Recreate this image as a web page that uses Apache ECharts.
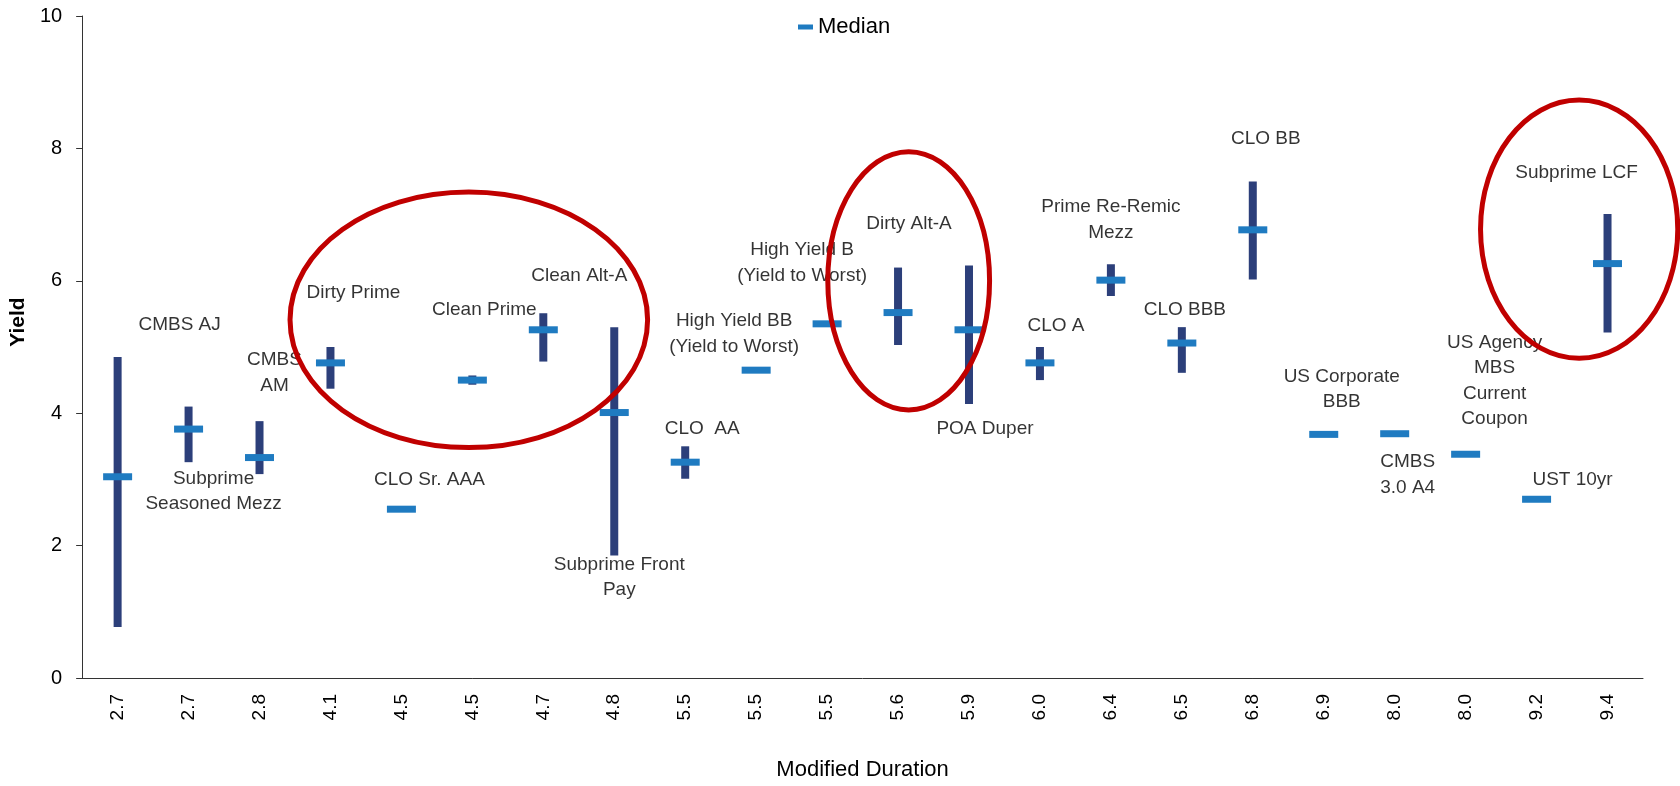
<!DOCTYPE html>
<html>
<head>
<meta charset="utf-8">
<script src="https://cdn.jsdelivr.net/npm/echarts@6/dist/echarts.min.js"></script>
<style>
  html, body { margin: 0; padding: 0; background: #fff; }
  #chart { width: 1680px; height: 786px; }
</style>
</head>
<body>
<div id="chart"></div>
<script>
// data
var names = ['CMBS AJ', 'Subprime\nSeasoned Mezz', 'CMBS\nAM', 'Dirty Prime', 'CLO Sr. AAA', 'Clean Prime',
  'Clean Alt-A', 'Subprime Front\nPay', 'CLO  AA', 'High Yield BB\n(Yield to Worst)', 'High Yield B\n(Yield to Worst)',
  'Dirty Alt-A', 'POA Duper', 'CLO A', 'Prime Re-Remic\nMezz', 'CLO BBB', 'CLO BB', 'US Corporate\nBBB',
  'CMBS\n3.0 A4', 'US Agency\nMBS\nCurrent\nCoupon', 'UST 10yr', 'Subprime LCF'];
var durations = [2.7, 2.7, 2.8, 4.1, 4.5, 4.5, 4.7, 4.8, 5.5, 5.5, 5.5, 5.6, 5.9, 6.0, 6.4, 6.5, 6.8, 6.9, 8.0, 8.0, 9.2, 9.4];
var medians = [3.04, 3.76, 3.33, 4.76, 2.55, 4.5, 5.26, 4.01, 3.26, 4.65, 5.35, 5.52, 5.26, 4.76, 6.01, 5.06, 6.77, 3.68, 3.69, 3.38, 2.70, 6.26];
var lows = [0.77, 3.26, 3.08, 4.37, null, 4.43, 4.78, 1.85, 3.01, null, null, 5.03, 4.14, 4.5, 5.77, 4.61, 6.02, null, null, null, null, 5.22];
var highs = [4.85, 4.10, 3.88, 5.0, null, 4.57, 5.51, 5.30, 3.5, null, null, 6.20, 6.23, 5.0, 6.25, 5.30, 7.5, null, null, null, null, 7.01];
var yTicks = [0, 2, 4, 6, 8, 10];

// where each text label sits: [pixel shift from its column, yield]
var labelPlace = [[62, 5.34], [25, 2.82], [15, 4.61], [23, 5.82], [28, 3.0], [12, 5.57], [36, 6.08], [5, 1.52],
  [17, 3.77], [-22, 5.2], [-25, 6.27], [11, 6.86], [16, 3.77], [16, 5.32], [0, 6.92], [3, 5.57], [13, 8.15],
  [18, 4.36], [13, 3.07], [29, 4.49], [36, 3.0], [-31, 7.63]];
// red rings: [column centre, yield centre, half width in columns, half height in yield]
var rings = [[4.95, 5.41, 2.52, 1.93], [11.15, 6.0, 1.14, 1.95], [20.6, 6.78, 1.39, 1.95]];

var font = 'Liberation Sans, Arial, sans-serif';

var rangeData = [];
lows.forEach(function (v, i) {
  if (v != null) rangeData.push([i, v, highs[i]]);
});

var chart = echarts.init(document.getElementById('chart'));
chart.setOption({
  animation: false,
  textStyle: { fontFamily: font, color: '#000' },
  grid: { left: 79, right: 37, top: 16, bottom: 103 },
  legend: {
    data: ['Median'],
    left: 798,
    top: 16,
    padding: 0,
    icon: 'rect',
    itemWidth: 15,
    itemHeight: 5,
    textStyle: { fontSize: 22, color: '#000', fontFamily: font }
  },
  xAxis: {
    type: 'category',
    data: names,
    name: 'Modified Duration',
    nameLocation: 'middle',
    nameGap: 81,
    nameTextStyle: { fontSize: 22, color: '#000', fontFamily: font },
    axisLine: { lineStyle: { color: '#333', width: 1 } },
    axisTick: { length: 6, lineStyle: { color: '#333' } },
    axisLabel: {
      rotate: 90,
      margin: 16,
      fontSize: 19,
      color: '#000',
      interval: 0,
      formatter: function (v, i) { return durations[i].toFixed(1); }
    }
  },
  yAxis: {
    type: 'value',
    min: yTicks[0],
    max: yTicks[yTicks.length - 1],
    interval: 2,
    name: 'Yield',
    nameLocation: 'middle',
    nameGap: 46,
    nameTextStyle: { fontSize: 21, fontWeight: 'bold', color: '#000', fontFamily: font, padding: [0, 0, 0, 50] },
    axisLine: { show: true, lineStyle: { color: '#333', width: 1 } },
    axisTick: { show: true, length: 6, lineStyle: { color: '#333' } },
    axisLabel: { fontSize: 20, color: '#000', margin: 20 },
    splitLine: { show: false }
  },
  series: [
    {
      name: 'Range',
      type: 'custom',
      z: 2,
      data: rangeData,
      renderItem: function (params, api) {
        var lo = api.coord([api.value(0), api.value(1)]);
        var hi = api.coord([api.value(0), api.value(2)]);
        return {
          type: 'rect',
          shape: { x: lo[0] - 4, y: hi[1], width: 8, height: lo[1] - hi[1] },
          style: { fill: '#2C3F7A' }
        };
      }
    },
    {
      name: 'Median',
      type: 'scatter',
      z: 3,
      symbol: 'rect',
      symbolSize: [29, 7],
      itemStyle: { color: '#1F7BC1', opacity: 1 },
      data: medians.map(function (v, i) { return [i, v]; })
    },
    {
      name: 'Labels',
      type: 'scatter',
      z: 4,
      silent: true,
      symbolSize: 0,
      data: labelPlace.map(function (p, i) {
        return {
          value: [i, p[1]],
          label: { offset: [p[0], 0] }
        };
      }),
      label: {
        show: true,
        position: 'inside',
        align: 'center',
        verticalAlign: 'middle',
        fontSize: 19,
        lineHeight: 25.5,
        color: '#000',
        fontFamily: font,
        formatter: function (p) { return names[p.dataIndex]; }
      }
    },
    {
      name: 'Rings',
      type: 'custom',
      z: 5,
      silent: true,
      clip: false,
      data: rings.map(function (r) { return [Math.round(r[0]), r[1]]; }),
      renderItem: function (params, api) {
        var r = rings[params.dataIndex];
        var base = api.coord([0, r[1]]);
        var band = api.size([1, 0])[0];
        var ry = api.size([0, r[3]])[1];
        return {
          type: 'ellipse',
          shape: { cx: base[0] + r[0] * band, cy: base[1], rx: r[2] * band, ry: ry },
          style: { fill: 'none', stroke: '#C00000', lineWidth: 5 }
        };
      }
    }
  ]
});
</script>
</body>
</html>
